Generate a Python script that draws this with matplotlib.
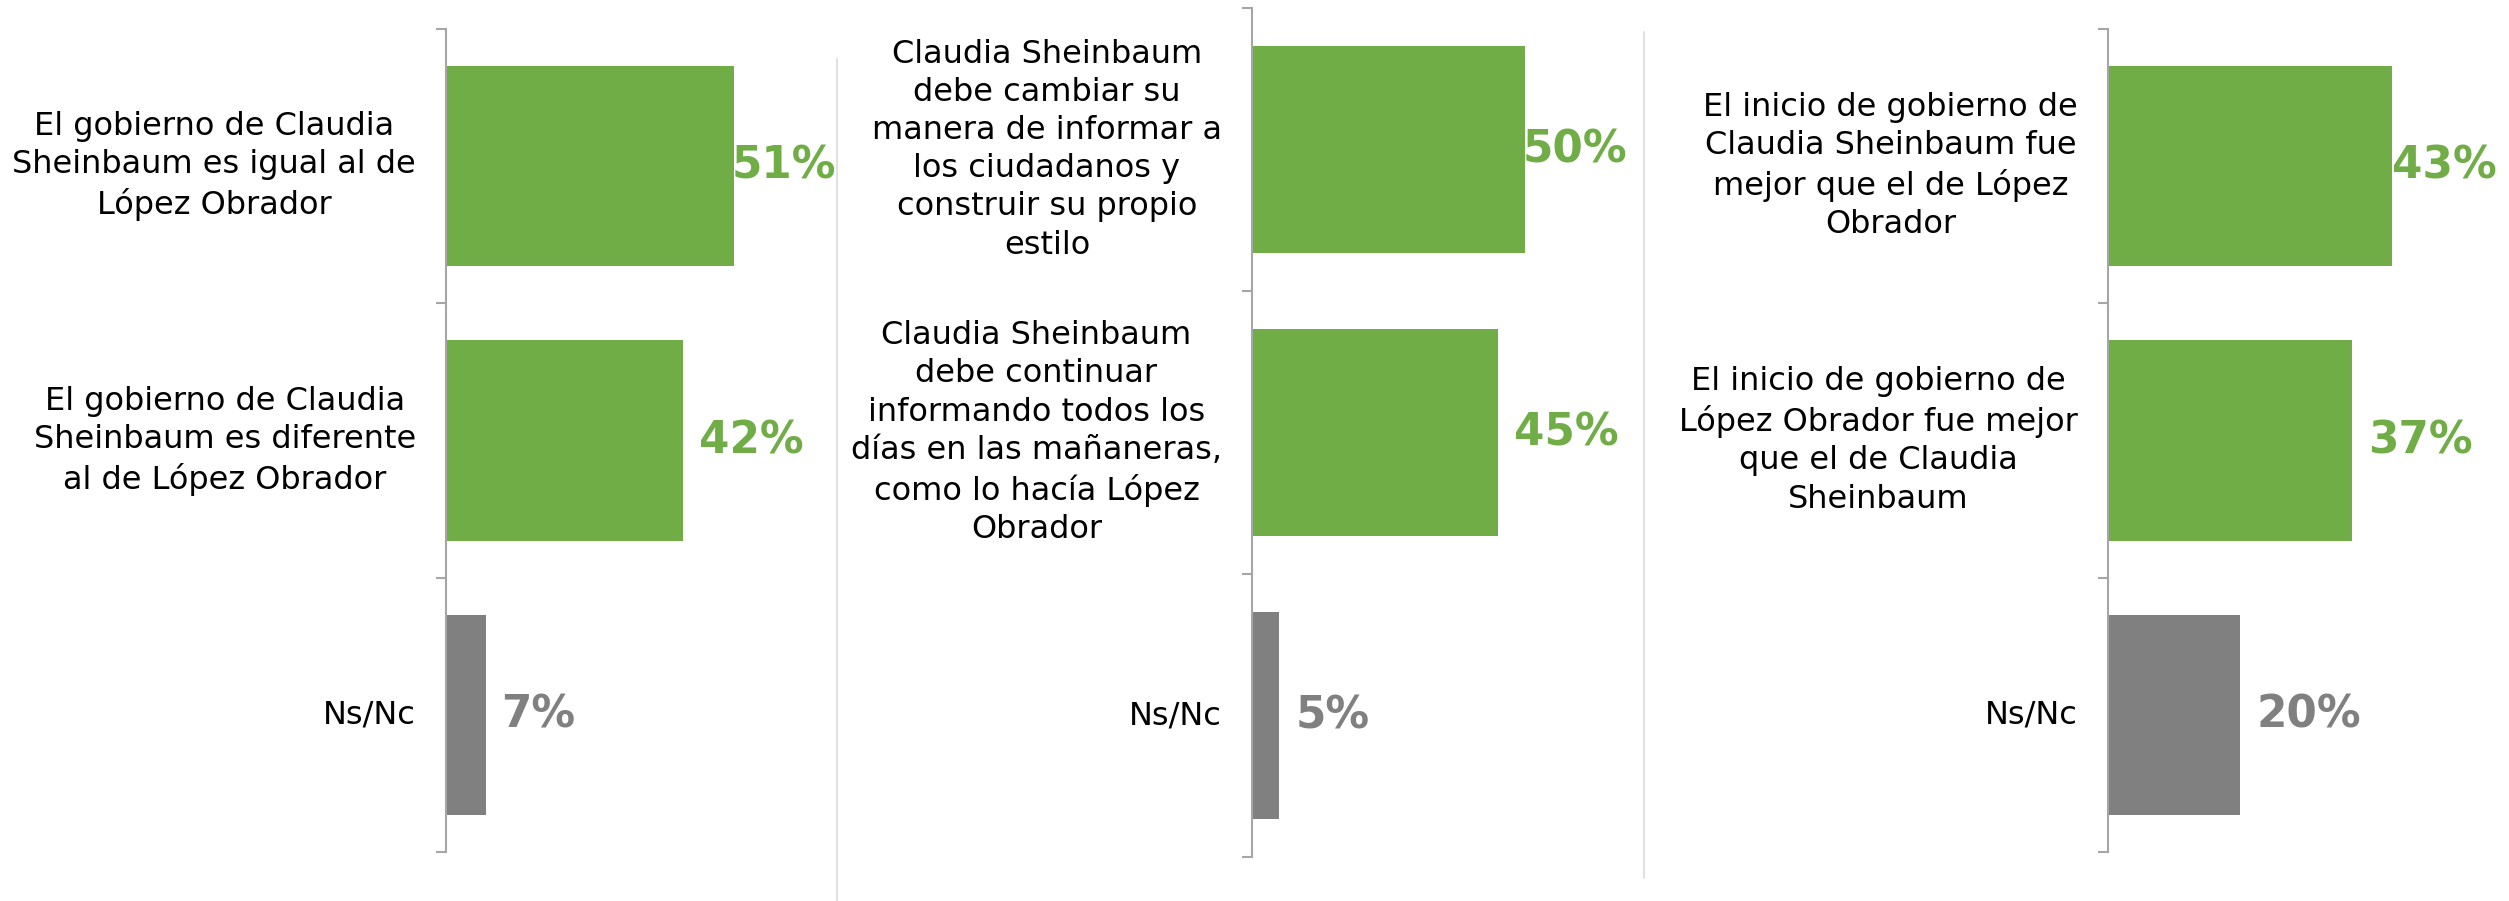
import matplotlib
matplotlib.use("Agg")
import matplotlib.pyplot as plt
from matplotlib.lines import Line2D

# data
labels_1 = ["El gobierno de Claudia\nSheinbaum es igual al de\nLópez Obrador",
            "El gobierno de Claudia\nSheinbaum es diferente\nal de López Obrador",
            "Ns/Nc"]
values_1 = [51, 42, 7]

labels_2 = ["Claudia Sheinbaum\ndebe cambiar su\nmanera de informar a\nlos ciudadanos y\nconstruir su propio\nestilo",
            "Claudia Sheinbaum\ndebe continuar\ninformando todos los\ndías en las mañaneras,\ncomo lo hacía López\nObrador",
            "Ns/Nc"]
values_2 = [50, 45, 5]

labels_3 = ["El inicio de gobierno de\nClaudia Sheinbaum fue\nmejor que el de López\nObrador",
            "El inicio de gobierno de\nLópez Obrador fue mejor\nque el de Claudia\nSheinbaum",
            "Ns/Nc"]
values_3 = [43, 37, 20]

GREEN = '#70AD47'
GRAY = '#808080'
AXIS_COLOR = '#A6A6A6'
SEP_COLOR = '#D9D9D9'
BAR_COLORS = [GREEN, GREEN, GRAY]

W, H = 2509, 901
DPI = 100

# panel layout in pixels: left, right, top, bottom, pixels per percent
PANELS = [
    (446, 836, 29, 852, 5.65),
    (1252, 1627, 8, 857, 5.46),
    (2108, 2497, 29, 852, 6.6),
]


def px_rect(x0, x1, ytop, ybot):
    return [x0 / W, 1 - ybot / H, (x1 - x0) / W, (ybot - ytop) / H]


fig = plt.figure(figsize=(W / DPI, H / DPI), dpi=DPI)
fig.patch.set_facecolor('white')

value_texts = []
for (x0, x1, ytop, ybot, scale), labels, values in zip(
        PANELS, [labels_1, labels_2, labels_3], [values_1, values_2, values_3]):
    ax = fig.add_axes(px_rect(x0, x1, ytop, ybot))
    y = list(range(len(values)))
    ax.barh(y, values, height=0.73, color=BAR_COLORS, zorder=2)
    ax.set_xlim(0, (x1 - x0) / scale)
    ax.set_ylim(len(values) - 0.5, -0.5)

    for s in ['top', 'right', 'bottom']:
        ax.spines[s].set_visible(False)
    ax.spines['left'].set_color(AXIS_COLOR)
    ax.spines['left'].set_linewidth(1.5)
    ax.set_xticks([])
    ax.set_yticks([i - 0.5 for i in range(len(values) + 1)])
    ax.tick_params(axis='y', length=7.2, width=1.5, color=AXIS_COLOR, labelleft=False)

    for i, (lab, v) in enumerate(zip(labels, values)):
        ax.annotate(lab, xy=(0, i), xycoords=('axes fraction', 'data'),
                    xytext=(-30, 0), textcoords='offset pixels',
                    ha='right', va='center', multialignment='center',
                    fontsize=23, linespacing=1.3, family='DejaVu Sans', color='black')
        t = ax.annotate(f"{v}%", xy=(v, i), xytext=(16, 0), textcoords='offset pixels',
                        ha='left', va='center', fontsize=31.5, fontweight='bold',
                        family='DejaVu Sans', color=BAR_COLORS[i])
        value_texts.append((ax, t))

# keep value labels inside the plot area, like the original
fig.canvas.draw()
renderer = fig.canvas.get_renderer()
for ax, t in value_texts:
    ext = t.get_window_extent(renderer)
    right = ax.get_window_extent(renderer).x1
    if ext.x1 > right:
        dx, dy = t.xyann
        t.xyann = (dx - (ext.x1 - right), dy)

# separators between panels
fig.add_artist(Line2D([837 / W, 837 / W], [1 - 59 / H, 0], color=SEP_COLOR, lw=1.1))
fig.add_artist(Line2D([1644 / W, 1644 / W], [1 - 32 / H, 1 - 878 / H], color=SEP_COLOR, lw=1.1))

fig.savefig('out.png', dpi=DPI, facecolor='white')
